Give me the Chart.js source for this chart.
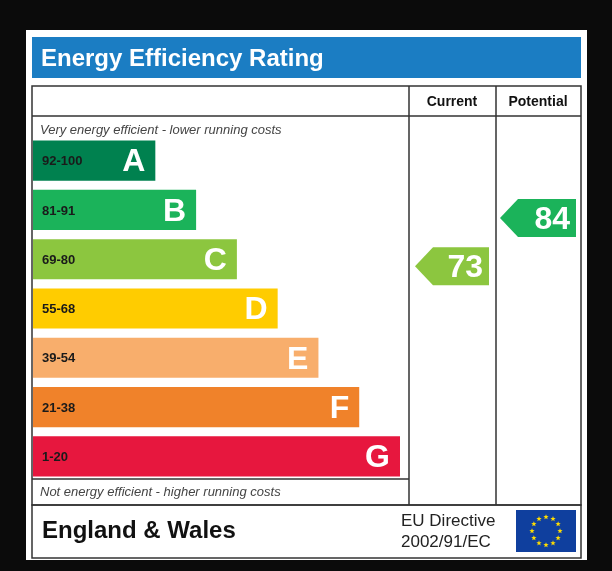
<!DOCTYPE html>
<html><head><meta charset="utf-8">
<script src="https://cdn.jsdelivr.net/npm/chart.js@4/dist/chart.umd.min.js"></script>
<style>html,body{margin:0;padding:0;background:#0b0b0b;}canvas{display:block;}</style>
</head><body><canvas id="c" width="612" height="571"></canvas>
<script>
const bands = ['A','B','C','D','E','F','G'];
const ranges = ['92-100','81-91','69-80','55-68','39-54','21-38','1-20'];
const lows = [92,81,69,55,39,21,1];
const highs = [100,91,80,68,54,38,20];
const barLengths = [3,4,5,6,7,8,9];
const colors = ['#00814f','#1bb35a','#8cc63f','#ffcc00','#f8ae6c','#f0822a','#e7173e'];
const currentRating = 73;
const potentialRating = 84;
const titleText = 'Energy Efficiency Rating';
const colHeaders = ['Current','Potential'];
const topNote = 'Very energy efficient - lower running costs';
const bottomNote = 'Not energy efficient - higher running costs';
const footerLeft = 'England & Wales';
const footerRight = ['EU Directive','2002/91/EC'];

function bandOf(v){for(let i=0;i<bands.length;i++) if(v>=lows[i]&&v<=highs[i]) return i; return 6;}
function ratingColor(v){return colors[bandOf(v)];}

const deco = {
  id:'deco',
  beforeDraw(ch){
    const c=ch.ctx; c.save();
    c.fillStyle='#0b0b0b'; c.fillRect(0,0,612,571);
    c.fillStyle='#fff'; c.fillRect(26,30,561,530);
    c.fillStyle='#1b7dc3'; c.fillRect(32,37,549,41);
    c.fillStyle='#fff'; c.font='bold 24px "Liberation Sans", Arial'; c.textBaseline='middle';
    c.fillText(titleText,41,59);
    c.strokeStyle='#333'; c.lineWidth=1.5;
    c.strokeRect(32,86,549,419);
    c.beginPath();
    c.moveTo(409,86);c.lineTo(409,505);
    c.moveTo(496,86);c.lineTo(496,505);
    c.moveTo(32,116);c.lineTo(581,116);
    c.moveTo(32,479);c.lineTo(409,479);
    c.stroke();
    c.strokeRect(32,505,549,53);
    c.fillStyle='#111'; c.font='bold 14px "Liberation Sans", Arial'; c.textAlign='center';
    c.fillText(colHeaders[0],452,102); c.fillText(colHeaders[1],538,102);
    c.textAlign='left'; c.fillStyle='#444'; c.font='italic 13px "Liberation Sans", Arial';
    c.fillText(topNote,40,130); c.fillText(bottomNote,40,492);
    c.restore();
  },
  afterDraw(ch){
    const c=ch.ctx, y=ch.scales.y, meta=ch.getDatasetMeta(0);
    c.save(); c.textBaseline='middle';
    meta.data.forEach((b,i)=>{
      c.fillStyle='#1a1a1a'; c.font='bold 13px "Liberation Sans", Arial'; c.textAlign='left';
      c.fillText(ranges[i],42,b.y+1);
      c.fillStyle='#fff'; c.font='bold 32px "Liberation Sans", Arial'; c.textAlign='right';
      c.fillText(bands[i],b.x-10,b.y+2);
    });
    const spacing = y.getPixelForValue(1)-y.getPixelForValue(0);
    function arrow(v,x0,x1){
      const i=bandOf(v);
      const cy=y.getPixelForValue(i)+((highs[i]-v)/(highs[i]-lows[i])-0.5)*spacing*0.3+5;
      const h=19;
      c.fillStyle=ratingColor(v);
      c.beginPath(); c.moveTo(x0,cy); c.lineTo(x0+18,cy-h); c.lineTo(x1,cy-h); c.lineTo(x1,cy+h); c.lineTo(x0+18,cy+h); c.closePath(); c.fill();
      c.fillStyle='#fff'; c.font='bold 32px "Liberation Sans", Arial'; c.textAlign='right';
      c.fillText(String(v),x1-6,cy+2);
    }
    arrow(currentRating,415,489);
    arrow(potentialRating,500,576);
    c.fillStyle='#111'; c.textAlign='left'; c.font='bold 24px "Liberation Sans", Arial';
    c.fillText(footerLeft,42,531);
    c.font='17px "Liberation Sans", Arial'; c.fillStyle='#222';
    c.fillText(footerRight[0],401,521); c.fillText(footerRight[1],401,542);
    c.fillStyle='#0f3f9e'; c.fillRect(516,510,60,42);
    c.fillStyle='#ffdd00';
    for(let k=0;k<12;k++){const a=k*Math.PI/6; const sx=546+14*Math.cos(a), sy=531+14*Math.sin(a);
      c.beginPath(); for(let p=0;p<10;p++){const r=p%2?1.2:2.8; const an=-Math.PI/2+p*Math.PI/5; c.lineTo(sx+r*Math.cos(an),sy+r*Math.sin(an));} c.closePath(); c.fill();}
    c.restore();
  }
};

new Chart(document.getElementById('c'),{
  type:'bar',
  data:{labels:bands,datasets:[{data:barLengths,backgroundColor:colors,borderWidth:0,categoryPercentage:1,barPercentage:0.815}]},
  options:{
    indexAxis:'y',responsive:false,animation:false,devicePixelRatio:1,
    layout:{padding:{left:33,right:212,top:136,bottom:90}},
    scales:{x:{display:false,min:0,max:9},y:{display:false}},
    plugins:{legend:{display:false},tooltip:{enabled:false}}
  },
  plugins:[deco]
});
</script></body></html>
